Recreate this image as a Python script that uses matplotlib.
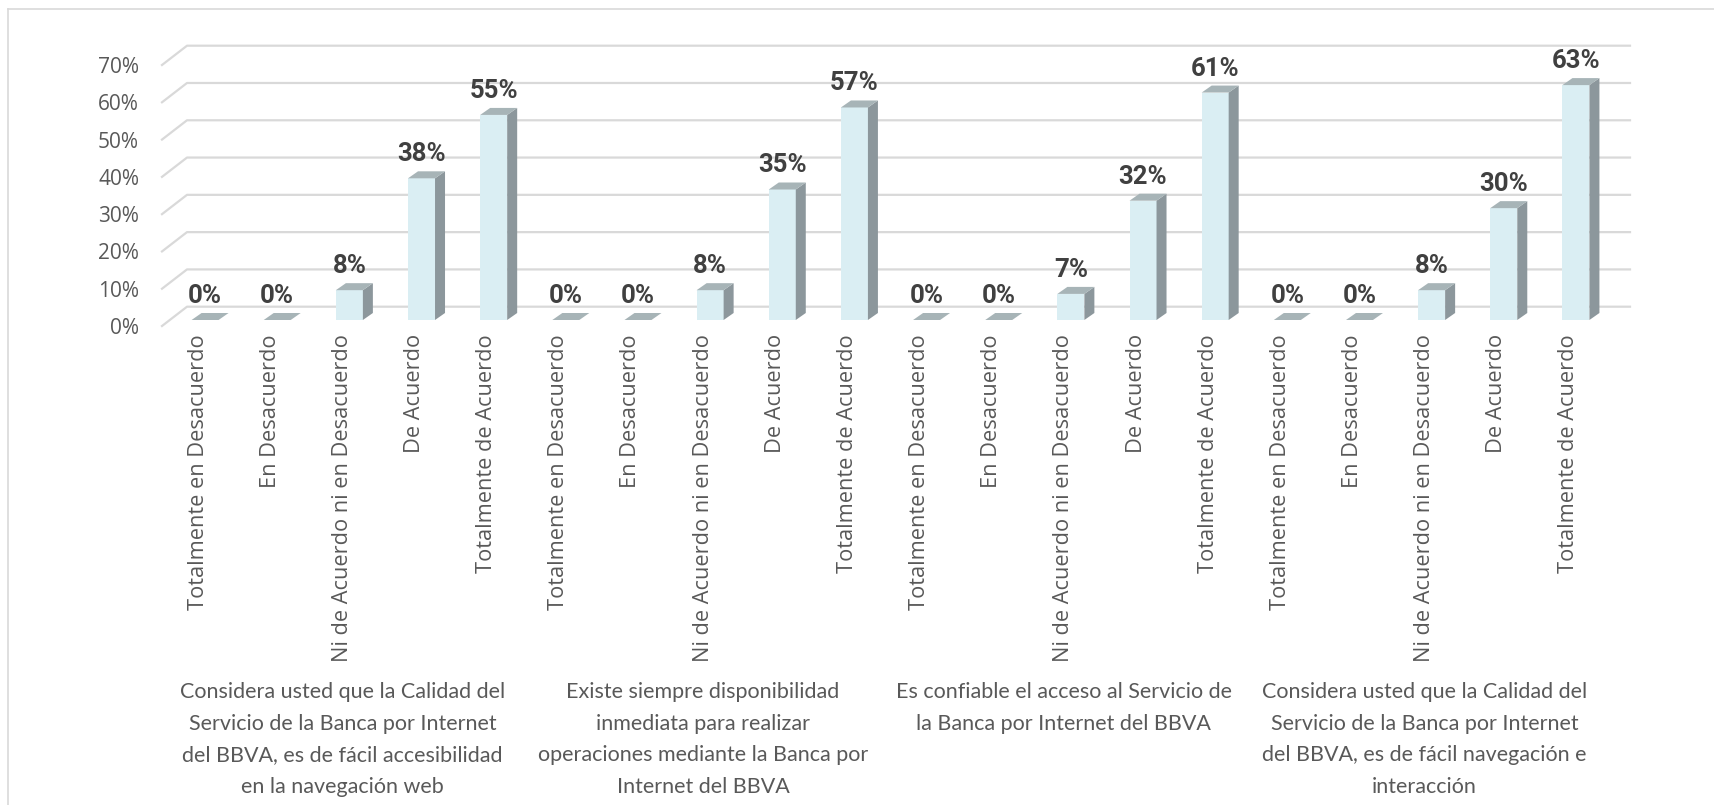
import matplotlib.pyplot as plt
from matplotlib.patches import Rectangle, Polygon
from matplotlib.lines import Line2D
from matplotlib.transforms import blended_transform_factory

plt.rcParams['font.family'] = ['Open Sans', 'DejaVu Sans']

categorias = ["Totalmente en Desacuerdo", "En Desacuerdo",
              "Ni de Acuerdo ni en Desacuerdo", "De Acuerdo",
              "Totalmente de Acuerdo"]
preguntas = [
    "Considera usted que la Calidad del\nServicio de la Banca por Internet\ndel BBVA, es de fácil accesibilidad\nen la navegación web",
    "Existe siempre disponibilidad\ninmediata para realizar\noperaciones mediante la Banca por\nInternet del BBVA",
    "Es confiable el acceso al Servicio de\nla Banca por Internet del BBVA",
    "Considera usted que la Calidad del\nServicio de la Banca por Internet\ndel BBVA, es de fácil navegación e\ninteracción",
]
accesibilidad = [0, 0, 8, 38, 55]
disponibilidad = [0, 0, 8, 35, 57]
confiabilidad = [0, 0, 7, 32, 61]
navegacion = [0, 0, 8, 30, 63]
yticks = [0, 10, 20, 30, 40, 50, 60, 70]

valores = accesibilidad + disponibilidad + confiabilidad + navegacion
etiquetas = categorias * len(preguntas)

c_front = '#DAEEF3'
c_side = '#8C979C'
c_top = '#A7B4B7'
c_grid = '#D9D9D9'
c_text = '#595959'

W, H = 1715, 805
fig = plt.figure(figsize=(W / 100, H / 100), dpi=100)
ax = fig.add_axes([162 / W, (H - 326) / H, 1443 / W, 261 / H])
n = len(valores)
ax.set_xlim(-0.5, n - 0.5)
ax.set_ylim(0, 70)

# pixels per data unit, used for the 3d offsets
ux = 1443 / n
uy = 261 / 70
back = (25 / ux, 19.3 / uy)
fo = (7 / ux, 6 / uy)
dp = (10 / ux, 7 / uy)
hw = 13.5 / ux

# walls / gridlines
for g in yticks:
    ax.plot([-0.5, -0.5 + back[0], n - 0.5 + back[0]],
            [g, g + back[1], g + back[1]],
            color=c_grid, lw=1.6, clip_on=False, zorder=1)

for i, v in enumerate(valores):
    x0 = i - hw + fo[0]
    x1 = i + hw + fo[0]
    y0 = fo[1]
    y1 = v + fo[1]
    ax.add_patch(Rectangle((x0, y0), 2 * hw, v, facecolor=c_front,
                           edgecolor='none', clip_on=False, zorder=3))
    ax.add_patch(Polygon([(x1, y0), (x1 + dp[0], y0 + dp[1]),
                          (x1 + dp[0], y1 + dp[1]), (x1, y1)],
                         closed=True, facecolor=c_side, edgecolor='none',
                         clip_on=False, zorder=3))
    ax.add_patch(Polygon([(x0, y1), (x1, y1), (x1 + dp[0], y1 + dp[1]),
                          (x0 + dp[0], y1 + dp[1])],
                         closed=True, facecolor=c_top, edgecolor='none',
                         clip_on=False, zorder=3))
    ax.text(i + fo[0], y1 + 17 / uy, f"{v}%", ha='center', va='baseline',
            fontsize=18.5, fontweight='bold', color='#404040',
            family='Roboto', zorder=4)

ax.set_yticks(yticks, labels=[f"{t}%" for t in yticks])
ax.set_xticks(range(n), labels=etiquetas, rotation=90)
ax.tick_params(axis='y', length=0, pad=16.5, labelsize=15, labelcolor=c_text)
ax.tick_params(axis='x', length=0, pad=5.8, labelsize=15.7, labelcolor=c_text)
for s in ax.spines.values():
    s.set_visible(False)

tr = blended_transform_factory(ax.transData, fig.transFigure)
for k, q in enumerate(preguntas):
    ax.text(2 + 5 * k, (H - 682) / H, q, transform=tr, ha='center', va='top',
            fontsize=15.5, family='Lato', color=c_text, linespacing=1.72)

# chart area border
fig.add_artist(Line2D([8 / W, 8 / W], [0, 1 - 9 / H], color=c_grid, lw=1.2))
fig.add_artist(Line2D([8 / W, 1], [1 - 9 / H, 1 - 9 / H], color=c_grid, lw=1.2))

fig.savefig('out.png', dpi=100)
